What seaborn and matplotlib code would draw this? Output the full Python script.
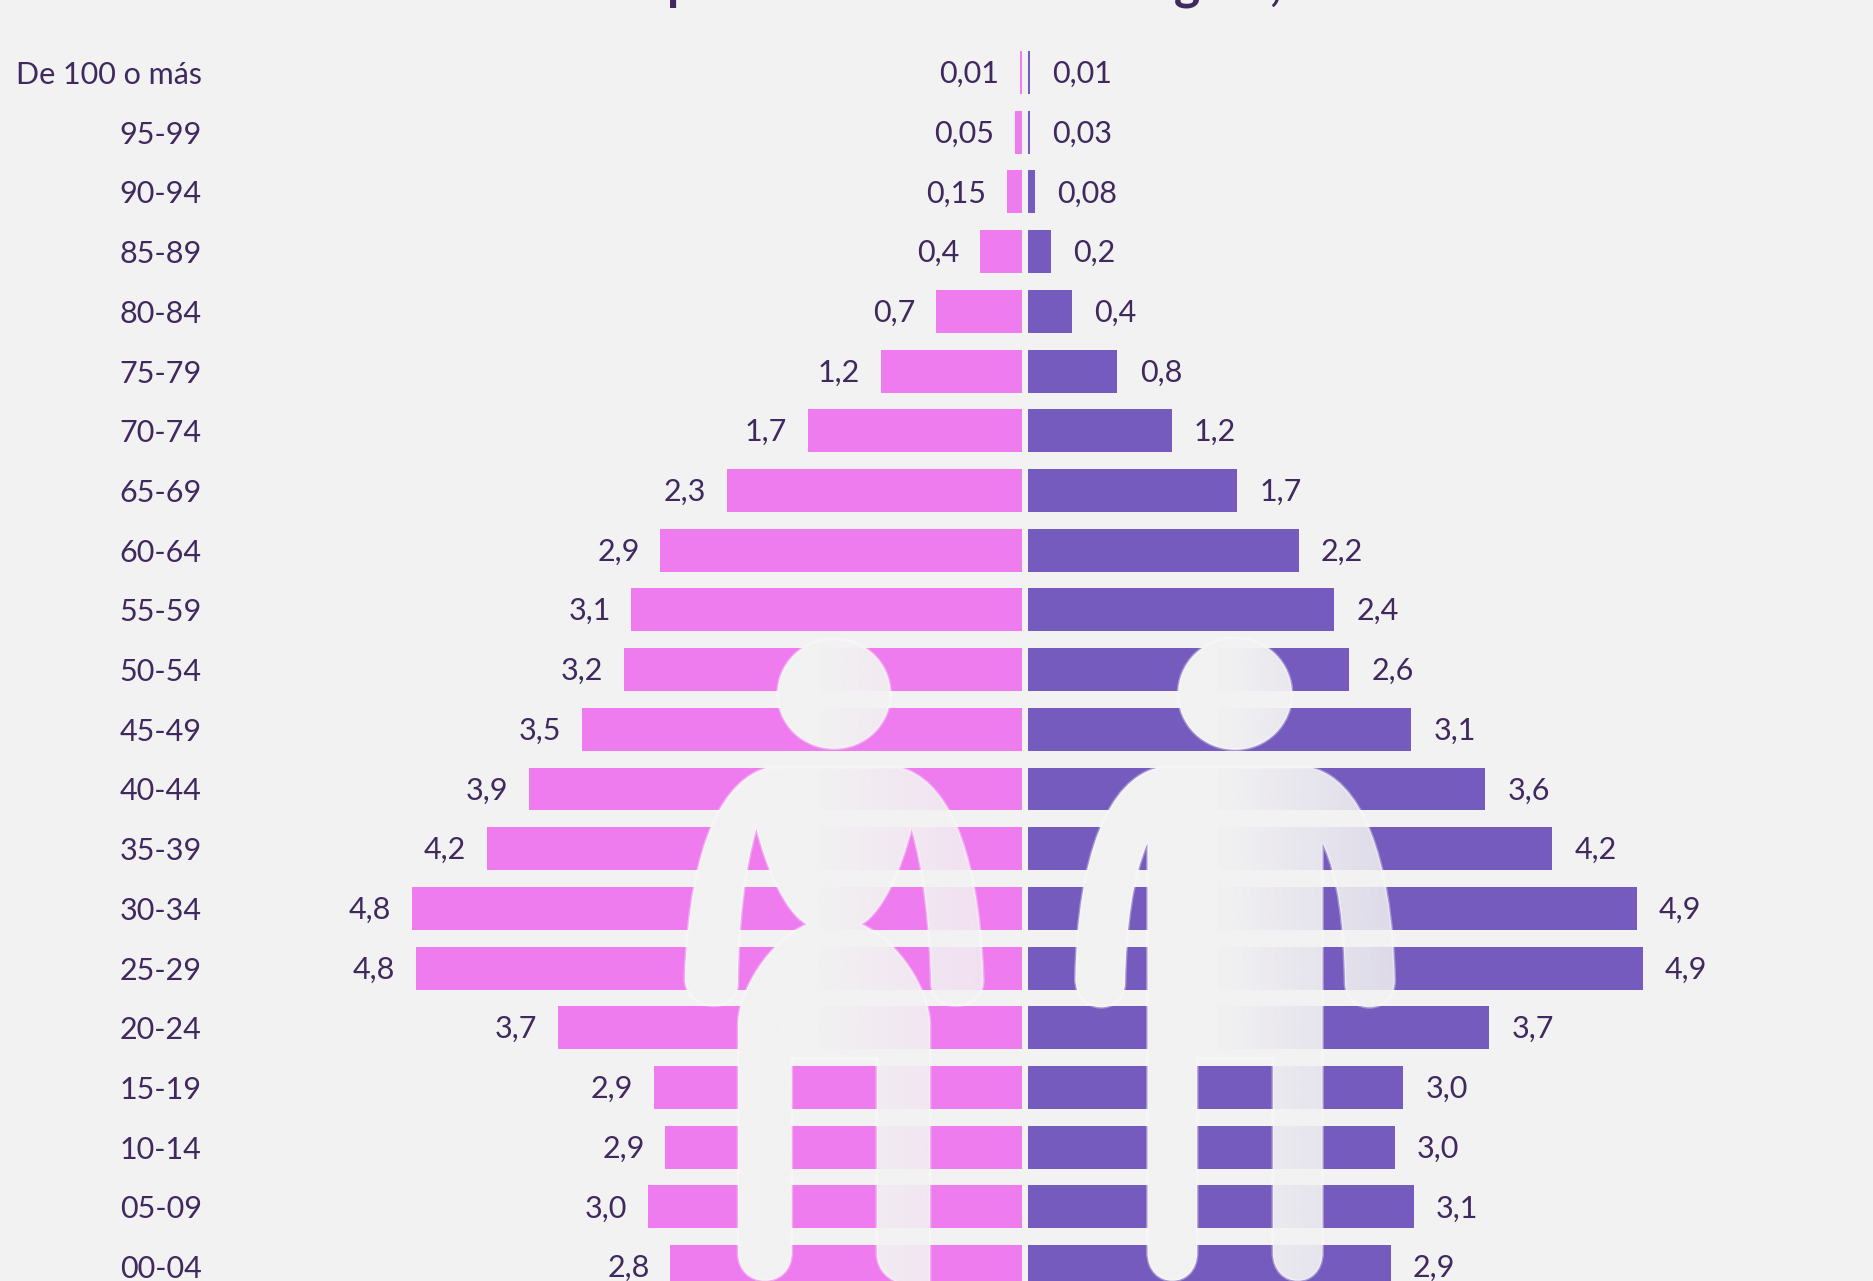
import matplotlib
matplotlib.use('Agg')
import matplotlib.pyplot as plt
import numpy as np
import seaborn as sns
from matplotlib.patches import Ellipse, PathPatch
from matplotlib.path import Path

ages = ['De 100 o más', '95-99', '90-94', '85-89', '80-84', '75-79', '70-74', '65-69', '60-64', '55-59', '50-54',
        '45-49', '40-44', '35-39', '30-34', '25-29', '20-24', '15-19', '10-14', '05-09', '00-04']
women = [0.015, 0.056, 0.12, 0.33, 0.68, 1.12, 1.70, 2.34, 2.87, 3.10, 3.16,
         3.49, 3.91, 4.25, 4.84, 4.81, 3.68, 2.92, 2.83, 2.97, 2.79]
men = [0.012, 0.012, 0.056, 0.18, 0.35, 0.71, 1.14, 1.66, 2.15, 2.43, 2.55,
       3.04, 3.63, 4.16, 4.83, 4.88, 3.66, 2.98, 2.91, 3.06, 2.88]
women_labels = ['0,01', '0,05', '0,15', '0,4', '0,7', '1,2', '1,7', '2,3', '2,9', '3,1', '3,2',
                '3,5', '3,9', '4,2', '4,8', '4,8', '3,7', '2,9', '2,9', '3,0', '2,8']
men_labels = ['0,01', '0,03', '0,08', '0,2', '0,4', '0,8', '1,2', '1,7', '2,2', '2,4', '2,6',
              '3,1', '3,6', '4,2', '4,9', '4,9', '3,7', '3,0', '3,0', '3,1', '2,9']

BG = '#F2F2F2'
PINK = '#EE7CEE'
PURPLE = '#745BBD'
INK = '#40295E'
W, H = 1873, 1281
PX_PER_UNIT = 126

sns.set_style('white')
plt.rcParams['font.family'] = ['Lato', 'DejaVu Sans']

fig = plt.figure(figsize=(W / 100, H / 100), dpi=100, facecolor=BG)

# two mirrored panels, rows run past the bottom of the picture
left_edge, mid_l, mid_r = 210, 1022, 1028
ax_l = fig.add_axes([left_edge / W, 0, (mid_l - left_edge) / W, 1])
ax_r = fig.add_axes([mid_r / W, 0, (W - mid_r) / W, 1])

sns.barplot(x=women, y=ages, color=PINK, saturation=1, width=0.72, linewidth=0, ax=ax_l)
sns.barplot(x=men, y=ages, color=PURPLE, saturation=1, width=0.72, linewidth=0, ax=ax_r)

ylim = (20.24, -1.214)
ax_l.set_xlim((mid_l - left_edge) / PX_PER_UNIT, 0)
ax_r.set_xlim(0, (W - mid_r) / PX_PER_UNIT)
for ax in (ax_l, ax_r):
    ax.set_ylim(*ylim)
    ax.set_facecolor('none')
    ax.set_xlabel('')
    ax.set_ylabel('')
    ax.set_xticks([])
    sns.despine(ax=ax, left=True, bottom=True)
ax_r.set_yticks([])
ax_l.tick_params(axis='y', length=0, pad=6, labelsize=22, labelcolor=INK)

for txt in ax_l.bar_label(ax_l.containers[0], labels=women_labels, padding=15, fontsize=22, color=INK):
    txt.xyann = (txt.xyann[0], txt.xyann[1] - 1)
for txt in ax_r.bar_label(ax_r.containers[0], labels=men_labels, padding=16, fontsize=22, color=INK):
    txt.xyann = (txt.xyann[0], txt.xyann[1] - 1)

# title is cropped by the top of the picture, only the descenders show
fig.text(0.5 - 78 / W, 1.0 + 1 / H, 'Estructura de la población total de la región, 2020', ha='center', va='baseline',
         fontsize=36, fontweight='bold', color=INK)

# people drawn on top, pixel coordinates of the figure
ov = fig.add_axes([0, 0, 1, 1], zorder=5)
ov.set_xlim(0, W)
ov.set_ylim(H, 0)
ov.axis('off')


def z(x, y):
    return 640 + x / 2.01, 620 + y / 2.372


def outline(start, segments):
    verts = [z(*start)]
    codes = [Path.MOVETO]
    for seg in segments:
        if len(seg) == 1:
            codes.append(Path.LINETO)
        else:
            codes += [Path.CURVE4] * 3
        verts += [z(*p) for p in seg]
    verts.append(verts[0])
    codes.append(Path.CLOSEPOLY)
    return Path(verts, codes)


woman = outline((260, 349), [
    [(520, 349)],
    [(610, 375), (680, 520), (690, 850)],
    [(695, 930), (585, 940), (585, 860)],
    [(583, 730), (570, 590), (546, 495)],
    [(525, 590), (490, 690), (445, 722)],
    [(520, 760), (583, 880), (583, 960)],
    [(583, 1568)],
    [(583, 1590), (476, 1590), (476, 1500)],
    [(476, 1040)],
    [(305, 1040)],
    [(305, 1500)],
    [(305, 1590), (197, 1590), (197, 1500)],
    [(197, 960)],
    [(197, 880), (260, 760), (335, 722)],
    [(290, 690), (255, 590), (234, 495)],
    [(210, 590), (197, 730), (197, 860)],
    [(197, 940), (90, 930), (90, 850)],
    [(100, 520), (170, 375), (260, 349)],
])
man = outline((1045, 349), [
    [(1345, 349)],
    [(1450, 375), (1510, 560), (1517, 850)],
    [(1520, 940), (1417, 940), (1417, 860)],
    [(1415, 730), (1405, 610), (1372, 530)],
    [(1372, 1500)],
    [(1372, 1590), (1272, 1590), (1272, 1500)],
    [(1272, 1040)],
    [(1120, 1040)],
    [(1120, 1500)],
    [(1120, 1590), (1020, 1590), (1020, 1500)],
    [(1020, 530)],
    [(990, 610), (977, 730), (975, 860)],
    [(975, 940), (875, 940), (875, 850)],
    [(880, 560), (940, 375), (1045, 349)],
])


def draw_person(body, head_xy, head_w, head_h):
    head = Ellipse(head_xy, head_w, head_h)
    x0, x1 = body.get_extents().x0, body.get_extents().x1
    alpha = np.interp(np.linspace(0, 1, 200), [0, 0.45, 1], [1, 1, 0.85])
    grad = np.ones((1, 200, 4))
    grad[..., :3] = matplotlib.colors.to_rgb(BG)
    grad[0, :, 3] = alpha
    for shape, extent_y in ((body, (H, 500)), (head, (H, 500))):
        im = ov.imshow(grad, extent=(x0, x1, extent_y[0], extent_y[1]), aspect='auto', interpolation='bilinear', zorder=5)
        if shape is head:
            ov.add_patch(head)
            head.set(facecolor='none', edgecolor='white', alpha=0.35, lw=2, zorder=6)
            im.set_clip_path(head)
        else:
            p = PathPatch(body, facecolor='none', edgecolor='white', alpha=0.35, lw=2, zorder=6)
            ov.add_patch(p)
            im.set_clip_path(p)


draw_person(woman, z(390, 175), 113, 110)
draw_person(man, z(1196, 175), 114, 112)
ov.set_xlim(0, W)
ov.set_ylim(H, 0)

fig.savefig('out.png', dpi=100, facecolor=BG)
